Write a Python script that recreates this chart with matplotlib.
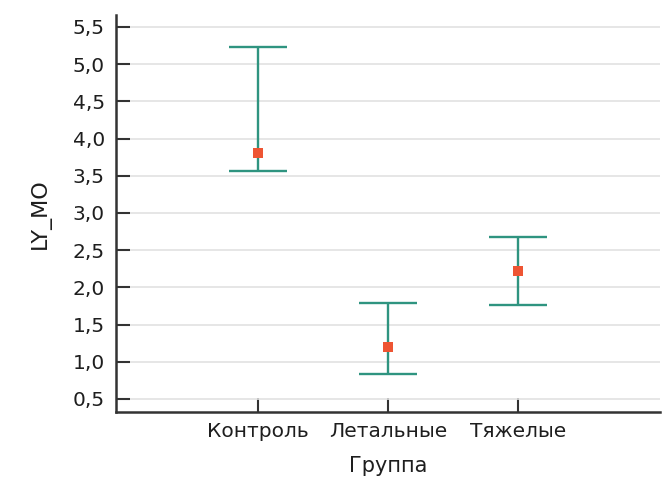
import matplotlib
matplotlib.use("Agg")
import matplotlib.pyplot as plt
import numpy as np
from matplotlib.ticker import FuncFormatter

plt.rcParams['font.family'] = ['DejaVu Sans']

groups = ["Контроль", "Летальные", "Тяжелые"]
means = [3.80, 1.20, 2.22]
lower = [3.56, 0.84, 1.76]
upper = [5.23, 1.79, 2.68]
yticks = [0.5, 1.0, 1.5, 2.0, 2.5, 3.0, 3.5, 4.0, 4.5, 5.0, 5.5]

fs = 14.5
tc = '#1e1e1e'

fig = plt.figure(figsize=(6.66, 4.8), dpi=100)
ax = fig.add_axes([116/666, 68/480, 544/666, 397/480])

x = np.arange(1, len(groups) + 1)
m = np.array(means)
yerr = [m - np.array(lower), np.array(upper) - m]
ax.errorbar(x, m, yerr=yerr, fmt='none', ecolor='#2f9480', elinewidth=1.7,
            capsize=21, capthick=1.7, zorder=3)
ax.plot(x, m, 's', color='#ee5533', markersize=6.5, zorder=4, markeredgewidth=0)

ax.set_xlim(-0.09, 4.09)
ax.set_ylim(0.325, 5.66)
ax.set_yticks(yticks)
ax.yaxis.set_major_formatter(FuncFormatter(lambda v, p: f"{v:.1f}".replace('.', ',')))
ax.set_xticks(x)
ax.set_xticklabels(groups)
ax.grid(axis='y', color='#e2e2e2', linewidth=1.2)
ax.set_axisbelow(True)
for s in ['top', 'right']:
    ax.spines[s].set_visible(False)
for s in ['left', 'bottom']:
    ax.spines[s].set_linewidth(1.8)
    ax.spines[s].set_color('#333333')
ax.tick_params(axis='y', direction='in', length=10, width=1.5, labelsize=fs,
               color='#333333', labelcolor=tc, pad=8)
ax.tick_params(axis='x', direction='in', length=10, width=1.5, labelsize=fs,
               color='#333333', labelcolor=tc, pad=7)
ax.set_ylabel("LY_MO", fontsize=16, color=tc, labelpad=16)
ax.set_xlabel("Группа", fontsize=15, color=tc, labelpad=11)

fig.savefig("out.png", dpi=100)
